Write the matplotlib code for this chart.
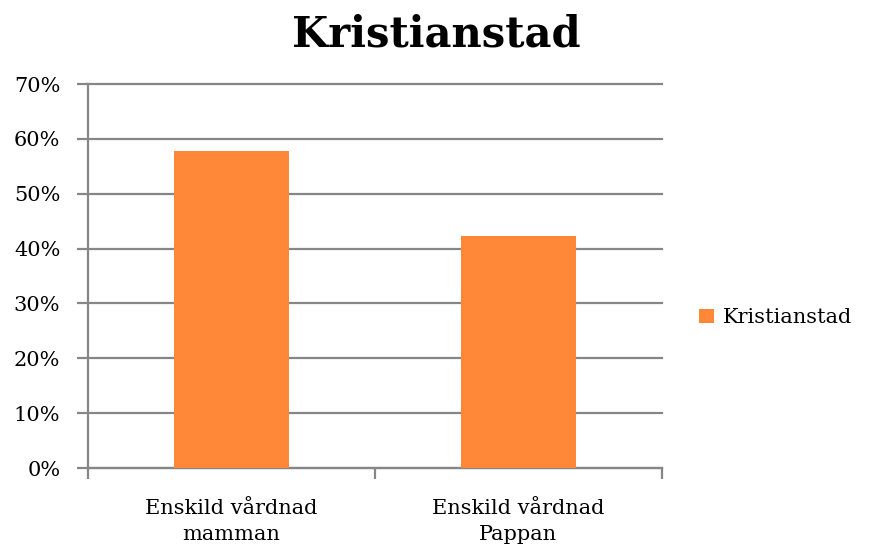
import matplotlib
matplotlib.use("Agg")
import matplotlib.pyplot as plt
from matplotlib.ticker import PercentFormatter
import numpy as np

categories = ["Enskild vårdnad\nmamman", "Enskild vårdnad\nPappan"]
values = [57.7, 42.3]
series_name = "Kristianstad"
title = "Kristianstad"
yticks = [0, 10, 20, 30, 40, 50, 60, 70]

BAR_COLOR = "#FF8838"
GRID_COLOR = "#868686"
plt.rcParams["font.family"] = ["DejaVu Serif"]

fig = plt.figure(figsize=(8.72, 5.47), dpi=100)
ax = fig.add_axes([0.101, 0.1444, 0.658, 0.702])

x = np.arange(len(categories))
ax.bar(x, values, width=0.4, color=BAR_COLOR, label=series_name, zorder=3)

ax.set_xlim(-0.5, len(categories) - 0.5)
ax.set_ylim(0, 70)
ax.set_yticks(yticks)
ax.yaxis.set_major_formatter(PercentFormatter(decimals=0))
ax.yaxis.grid(True, color=GRID_COLOR, linewidth=1.6, zorder=0)
for gl in ax.get_ygridlines():
    gl.set_clip_on(False)

# category labels centred, ticks on category boundaries
ax.set_xticks(x)
ax.set_xticklabels(categories, fontsize=15, linespacing=1.5)
ax.tick_params(axis="x", length=0, pad=22)
ax.set_xticks(np.arange(-0.5, len(categories)), minor=True)
ax.tick_params(axis="x", which="minor", length=8, width=1.6, color=GRID_COLOR)
ax.tick_params(axis="y", length=8, width=1.6, color=GRID_COLOR, labelsize=15, pad=12)

for side in ["top", "right"]:
    ax.spines[side].set_visible(False)
for side in ["left", "bottom"]:
    ax.spines[side].set_color(GRID_COLOR)
    ax.spines[side].set_linewidth(1.6)

fig.suptitle(title, x=0.5, y=0.975, fontsize=30, fontweight="bold")
ax.legend(loc="center left", bbox_to_anchor=(0.802, 0.419), bbox_transform=fig.transFigure,
          frameon=False, fontsize=15, handlelength=0.7, handleheight=0.7,
          handletextpad=0.45, borderpad=0, borderaxespad=0)

fig.savefig("out.png", dpi=100)
